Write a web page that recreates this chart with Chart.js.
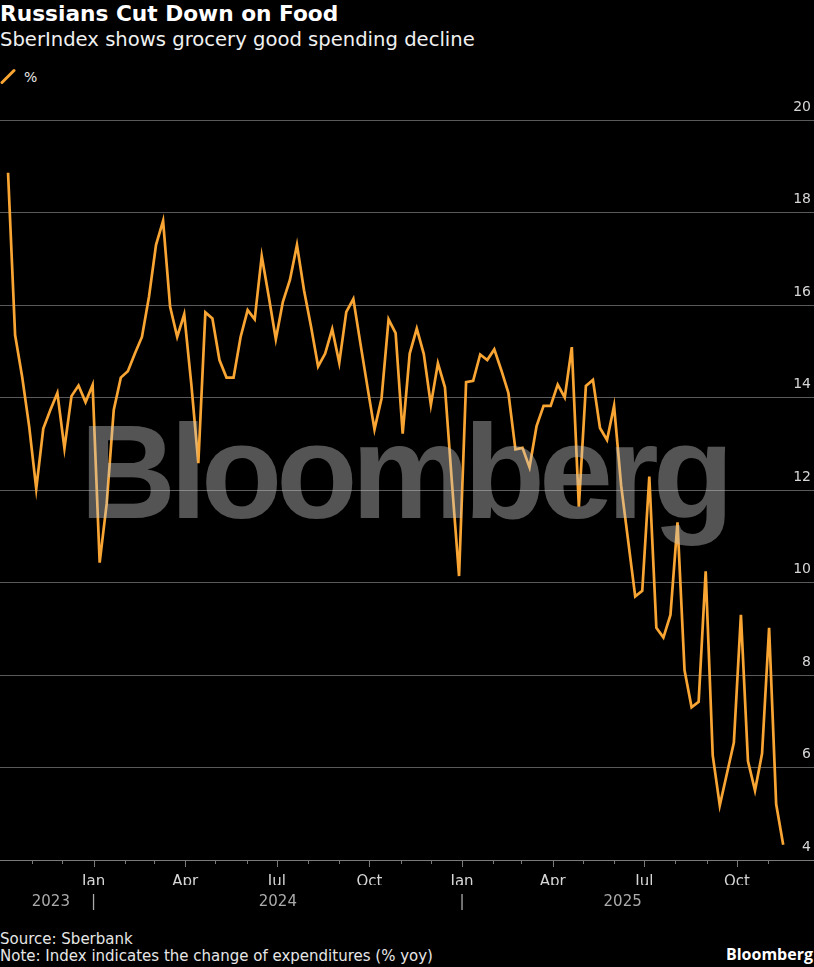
<!DOCTYPE html>
<html>
<head>
<meta charset="utf-8">
<script src="https://cdn.jsdelivr.net/npm/chart.js@4.4.1/dist/chart.umd.min.js"></script>
<style>
  html, body { margin: 0; padding: 0; background: #000; }
  body { width: 814px; height: 967px; position: relative; overflow: hidden; font-family: "DejaVu Sans", sans-serif; }
  .txt { position: absolute; white-space: nowrap; }
  #title { left: 0; top: 1px; font-size: 21.7px; line-height: 26px; font-weight: bold; color: #fff; }
  #subtitle { left: 0; top: 28px; font-size: 19.6px; line-height: 24px; color: #f0f0f0; }
  #legend { left: 0; top: 68px; height: 18px; }
  #legend svg { position: absolute; left: 0; top: 0; }
  #legend span { position: absolute; left: 24px; top: 0; font-size: 14px; line-height: 18px; color: #e6e6e6; }
  #wrap { position: absolute; left: 0; top: 100px; width: 814px; height: 815px; }
  #watermark { left: 80px; top: 406px; font-family: "Liberation Sans", Arial, sans-serif; font-weight: bold;
               font-size: 133px; line-height: 133px; letter-spacing: -6px; color: rgba(200, 200, 200, 0.42);
               z-index: 2; pointer-events: none; }
  #source { left: 0; top: 930px; font-size: 15px; line-height: 18px; color: #e6e6e6; }
  #note { left: 0; top: 947px; font-size: 15px; line-height: 18px; color: #e6e6e6; }
  #brand { right: 1px; top: 944px; font-family: "Open Sans", sans-serif; font-weight: bold; font-size: 16px; line-height: 20px; color: #fff; }
</style>
</head>
<body>
<div id="title" class="txt">Russians Cut Down on Food</div>
<div id="subtitle" class="txt">SberIndex shows grocery good spending decline</div>
<div id="legend" class="txt">
  <svg width="18" height="18"><line x1="2" y1="14.5" x2="14" y2="2.5" stroke="#F9A533" stroke-width="3" stroke-linecap="round"/></svg>
  <span>%</span>
</div>
<div id="wrap"><canvas id="chart" width="814" height="815"></canvas></div>
<div id="watermark" class="txt">Bloomberg</div>
<div id="source" class="txt">Source: Sberbank</div>
<div id="note" class="txt">Note: Index indicates the change of expenditures (% yoy)</div>
<div id="brand" class="txt">Bloomberg</div>

<script>
'use strict';

/* ─── 데이터 ─── */
var firstWeek = '2023-10-08';   // weekly observations from here
var values = [
  18.86, 15.35, 14.45, 13.37, 12.03, 13.33, 13.73, 14.10, 12.90, 14.03,
  14.26, 13.90, 14.27, 10.43, 11.71, 13.73, 14.43, 14.57, 14.95, 15.31,
  16.18, 17.30, 17.82, 15.96, 15.31, 15.80, 14.30, 12.58, 15.84, 15.71,
  14.81, 14.43, 14.43, 15.31, 15.89, 15.69, 17.06, 16.18, 15.26, 16.07,
  16.54, 17.30, 16.32, 15.53, 14.67, 14.95, 15.48, 14.75, 15.85, 16.13,
  15.17, 14.23, 13.31, 13.98, 15.69, 15.39, 13.22, 14.95, 15.49, 14.94,
  13.84, 14.74, 14.22, 12.14, 10.14, 14.33, 14.36, 14.93, 14.81, 15.04,
  14.59, 14.10, 12.88, 12.91, 12.49, 13.38, 13.82, 13.82, 14.28, 14.00,
  15.09, 11.64, 14.25, 14.38, 13.34, 13.08, 13.82, 12.10, 10.90, 9.70,
  9.82, 12.29, 9.02, 8.81, 9.30, 11.30, 8.10, 7.30, 7.42, 10.24,
  6.26, 5.18, 5.86, 6.54, 9.30, 6.14, 5.50, 6.30, 9.02, 5.21,
  4.33
];
var years = [2023, 2024, 2025];
var quarterLabels = { 0: 'Jan', 3: 'Apr', 6: 'Jul', 9: 'Oct' };
var firstMonth = '2023-11-01';
var lastMonth = '2025-11-01';

/* ─── 날짜 → 2024-01-01 기준 일수 ─── */
var ORIGIN = Date.UTC(2024, 0, 1);
function dayOf(s) {
  var p = s.split('-');
  return (Date.UTC(+p[0], +p[1] - 1, +p[2]) - ORIGIN) / 86400000;
}

var X_MIN = -93;
var X_MAX = 715.6;

var points = [];
var start = dayOf(firstWeek);
for (var i = 0; i < values.length; i++) {
  points.push({ x: start + 7 * i, y: values[i] });
}
var firstX = points[0].x;
var lastX = points[points.length - 1].x;

// 월 눈금
var monthTicks = [], monthLabels = [];
(function () {
  var p = firstMonth.split('-'), y = +p[0], m = +p[1] - 1;
  var q = lastMonth.split('-'), ey = +q[0], em = +q[1] - 1;
  while (y < ey || (y === ey && m <= em)) {
    monthTicks.push((Date.UTC(y, m, 1) - ORIGIN) / 86400000);
    monthLabels.push(quarterLabels[m] || '');
    m++;
    if (m > 11) { m = 0; y++; }
  }
})();

// 연도 라벨 + 구분선
var yearTicks = [], yearLabels = [];
for (var k = 0; k < years.length; k++) {
  var a = Math.max(firstX, (Date.UTC(years[k], 0, 1) - ORIGIN) / 86400000);
  var b = Math.min(lastX, (Date.UTC(years[k] + 1, 0, 1) - ORIGIN) / 86400000);
  if (k > 0) {
    yearTicks.push((Date.UTC(years[k], 0, 1) - ORIGIN) / 86400000);
    yearLabels.push('|');
  }
  yearTicks.push((a + b) / 2);
  yearLabels.push(String(years[k]));
}

/* ─── 작은 눈금 표시 ─── */
var tickMarks = {
  id: 'tickMarks',
  afterDraw: function (chart) {
    var s = chart.scales.x, ctx = chart.ctx, bottom = chart.chartArea.bottom;
    ctx.save();
    ctx.strokeStyle = '#7a7a7a';
    ctx.lineWidth = 1;
    for (var i = 0; i < monthTicks.length; i++) {
      var px = Math.round(s.getPixelForValue(monthTicks[i])) + 0.5;
      var len = monthLabels[i] ? 7 : 4;
      ctx.beginPath();
      ctx.moveTo(px, bottom);
      ctx.lineTo(px, bottom + len);
      ctx.stroke();
    }
    ctx.restore();
  }
};

var axisFont = { family: 'DejaVu Sans', size: 15 };

new Chart(document.getElementById('chart'), {
  type: 'line',
  data: {
    datasets: [{
      data: points,
      borderColor: '#F9A533',
      borderWidth: 2.7,
      pointRadius: 0,
      tension: 0,
      fill: false
    }]
  },
  options: {
    responsive: false,
    animation: false,
    devicePixelRatio: 1,
    layout: { padding: { top: 20, left: 0, right: 0, bottom: 0 } },
    plugins: { legend: { display: false }, tooltip: { enabled: false } },
    scales: {
      x: {
        type: 'linear',
        min: X_MIN,
        max: X_MAX,
        afterBuildTicks: function (s) {
          s.ticks = monthTicks.map(function (v) { return { value: v }; });
        },
        afterFit: function (s) { s.height = 25; },
        ticks: {
          autoSkip: false,
          maxRotation: 0,
          padding: 13,
          color: '#d6d6d6',
          font: axisFont,
          callback: function (v, idx) { return monthLabels[idx]; }
        },
        grid: { display: true, drawOnChartArea: false, drawTicks: false },
        border: { display: true, color: '#7a7a7a' }
      },
      yr: {
        type: 'linear',
        position: 'bottom',
        min: X_MIN,
        max: X_MAX,
        afterBuildTicks: function (s) {
          s.ticks = yearTicks.map(function (v) { return { value: v }; });
        },
        afterFit: function (s) { s.height = 30; },
        ticks: {
          autoSkip: false,
          maxRotation: 0,
          padding: 0,
          color: '#ababab',
          font: axisFont,
          callback: function (v, idx) { return yearLabels[idx]; }
        },
        grid: { display: false },
        border: { display: false }
      },
      y: {
        position: 'right',
        min: 4,
        max: 20,
        afterFit: function (s) { s.width = 0; },
        ticks: {
          stepSize: 2,
          mirror: true,
          padding: -3,
          labelOffset: -13,
          color: '#d6d6d6',
          font: { family: 'DejaVu Sans', size: 14 }
        },
        grid: { color: '#5a5a5a', drawTicks: false },
        border: { display: false }
      }
    }
  },
  plugins: [tickMarks]
});
</script>
</body>
</html>
